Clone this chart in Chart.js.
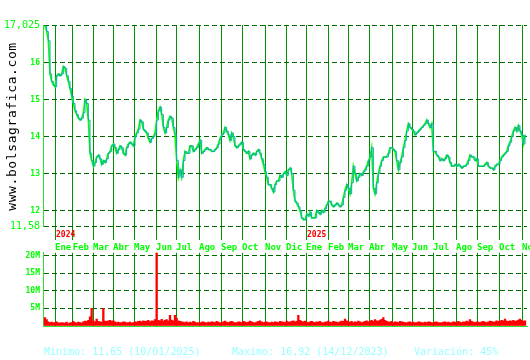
<!DOCTYPE html>
<html>
<head>
<meta charset="utf-8">
<script src="https://cdn.jsdelivr.net/npm/chart.js@4.4.0/dist/chart.umd.min.js"></script>
<style>
  body { margin: 0; background: #fff; }
  #wrap { position: relative; width: 530px; height: 360px; }
  #priceBox { position: absolute; left: 0; top: 0; width: 530px; height: 252px; }
  #volBox { position: absolute; left: 0; top: 245px; width: 530px; height: 90px; }
  .foot { position: absolute; top: 346px; font: 10px "DejaVu Sans Mono", monospace; color: #99ffff; white-space: pre; }
</style>
</head>
<body>
<div id="wrap">
  <div id="priceBox"><canvas id="priceChart"></canvas></div>
  <div id="volBox"><canvas id="volChart"></canvas></div>
  <span class="foot" style="left:44px">Minimo: 11,65 (10/01/2025)</span>
  <span class="foot" style="left:232px">Maximo: 16,92 (14/12/2023)</span>
  <span class="foot" style="left:414px">Variación: 45%</span>
</div>
<script>
// daily closes, Dec 2023 -> Nov 2025 (one value every ~1.7 sessions)
const closes = [
  17.0, 16.85, 16.6, 15.7, 15.5, 15.4, 15.35, 15.65, 15.7, 15.65, 15.7, 15.9, 15.85, 15.65, 15.5, 15.3, 15.1, 14.9, 14.7, 14.6,
  14.5, 14.45, 14.5, 14.65, 15.0, 14.9, 14.45, 13.55, 13.35, 13.2, 13.3, 13.45, 13.5, 13.4, 13.25, 13.35, 13.3, 13.4, 13.55, 13.6,
  13.75, 13.8, 13.7, 13.55, 13.65, 13.75, 13.7, 13.55, 13.5, 13.7, 13.8, 13.85, 13.8, 13.75, 14.0, 14.1, 14.2, 14.45, 14.4, 14.2,
  14.15, 14.1, 13.95, 13.85, 13.95, 14.0, 14.1, 14.45, 14.7,
  14.8, 14.6, 14.25, 14.1, 14.25, 14.45, 14.55, 14.5, 14.25, 14.05, 13.35, 12.9, 13.1, 12.9, 13.35, 13.6, 13.55, 13.55, 13.75, 13.75,
  13.6, 13.65, 13.7, 13.8, 13.9, 13.55, 13.6, 13.65, 13.7, 13.65, 13.65, 13.6, 13.6, 13.65, 13.7, 13.8, 13.95, 14.05, 14.1, 14.25,
  14.15, 14.05, 13.9, 14.1, 14.0, 13.75, 13.7, 13.75, 13.8, 13.85, 13.65, 13.6, 13.55, 13.6, 13.4, 13.5, 13.55, 13.5, 13.6, 13.65,
  13.55, 13.4, 13.25, 13.05, 12.9, 12.7, 12.7, 12.6, 12.5, 12.7, 12.8, 12.8,
  12.95, 12.9, 13.0, 13.05, 12.95, 13.1, 13.15, 13.0, 12.55, 12.25, 12.2, 12.1, 12.0, 11.8, 11.75, 11.75, 11.9, 11.85, 11.95, 11.8,
  11.8, 11.8, 12.0, 11.95, 11.9, 12.0, 11.95, 12.05, 12.15, 12.25, 12.25, 12.15, 12.1, 12.15, 12.2, 12.15, 12.1, 12.15, 12.35, 12.55,
  12.7, 12.6, 12.45, 12.75, 13.2, 13.0, 12.8, 12.9, 13.0, 12.95, 13.05, 13.1, 13.2, 13.35, 13.45, 13.7, 12.6, 12.45, 12.75, 13.0,
  13.2, 13.35, 13.45, 13.45, 13.45, 13.55, 13.7, 13.7, 13.65, 13.6, 13.35, 13.1,
  13.3, 13.45, 13.7, 13.9, 14.15, 14.35, 14.25, 14.2, 14.15, 14.05, 14.1, 14.15, 14.2, 14.25, 14.3, 14.35, 14.45, 14.35, 14.25, 14.35,
  13.6, 13.6, 13.5, 13.45, 13.35, 13.4, 13.35, 13.4, 13.5, 13.45, 13.3, 13.2, 13.2, 13.25, 13.2, 13.25, 13.2, 13.15, 13.2, 13.2,
  13.25, 13.35, 13.5, 13.45, 13.45, 13.35, 13.4, 13.2, 13.2, 13.2, 13.2, 13.25, 13.3, 13.2, 13.15, 13.15, 13.1, 13.2, 13.25, 13.25,
  13.35, 13.45, 13.5, 13.55, 13.6, 13.75, 13.85, 14.0, 14.15, 14.25, 14.15, 14.3, 14.15, 14.05, 13.8, 14.05
];

// volume in millions, same sampling
const volumes = [
  2.4, 1.8, 1.2, 1.0, 1.1, 0.9, 1.0, 1.2, 0.9, 0.8, 1.0, 0.9, 0.8, 1.1, 0.7, 0.9, 1.0, 1.3, 1.0, 0.9,
  1.1, 1.0, 0.9, 1.2, 1.4, 1.3, 1.6, 2.6, 5.0, 1.5, 1.2, 2.0, 1.3, 1.2, 1.1, 5.0, 1.4, 1.3, 1.5, 1.6,
  1.4, 1.5, 1.2, 1.0, 1.1, 0.9, 1.0, 1.2, 1.1, 0.9, 1.0, 1.1, 0.8, 1.0, 1.2, 1.1, 1.3, 1.4, 1.2, 1.5,
  1.3, 1.4, 1.6, 1.2, 1.5, 1.4, 1.8, 21.0, 1.6, 1.5, 1.9, 1.4, 1.6, 1.8, 1.5, 3.0, 1.7, 1.5, 3.0, 2.2,
  1.5, 1.3, 1.2, 1.1, 1.0, 1.2, 0.9, 1.1, 1.0, 1.3, 1.1, 0.9, 1.0, 0.8, 1.1, 1.2, 1.0, 0.9, 1.1, 1.0,
  1.2, 1.1, 1.0, 1.3, 1.1, 0.9, 1.0, 1.2, 1.4, 1.1, 1.0, 1.2, 1.3, 1.1, 0.9, 1.0, 1.2, 1.1, 1.0, 1.3,
  1.2, 1.0, 1.1, 1.4, 1.2, 1.0, 0.9, 1.1, 1.3, 1.5, 1.2, 1.0, 1.1, 1.2, 1.0, 0.9, 1.1, 1.0, 1.2, 1.1,
  1.0, 1.3, 1.2, 1.1, 1.0, 1.4, 1.2, 1.1, 1.3, 1.5, 1.2, 1.4, 3.0, 1.6, 1.3, 1.2, 1.4, 1.1, 1.0, 1.2,
  1.3, 1.1, 1.0, 1.2, 1.1, 1.3, 1.0, 0.9, 1.1, 1.2, 1.4, 1.1, 1.0, 1.3, 1.2, 1.1, 1.0, 1.2, 1.4, 1.3,
  2.0, 1.5, 1.2, 1.1, 1.3, 1.0, 1.2, 1.1, 1.4, 1.2, 1.0, 1.1, 1.3, 1.5, 1.2, 1.4, 1.6, 1.3, 1.8, 1.5,
  1.4, 1.7, 1.9, 2.4, 1.6, 1.3, 1.2, 1.1, 1.3, 1.0, 1.2, 1.1, 1.0, 1.3, 1.2, 1.1, 1.0, 0.9, 1.1, 1.2,
  1.0, 1.1, 0.9, 1.0, 1.2, 1.1, 1.0, 0.9, 1.1, 1.0, 1.2, 1.1, 1.0, 0.9, 1.1, 1.2, 1.0, 0.9, 1.0, 1.1,
  1.2, 1.0, 1.1, 0.9, 1.0, 1.2, 1.1, 1.0, 1.3, 1.1, 1.0, 1.2, 1.1, 1.4, 1.2, 1.8, 1.3, 1.1, 1.0, 1.2,
  1.1, 1.0, 1.2, 1.3, 1.1, 1.0, 1.2, 1.4, 1.3, 1.1, 1.2, 1.5, 1.3, 1.4, 1.6, 1.5, 2.0, 1.4, 1.3, 1.5,
  1.4, 1.6, 1.3, 1.5, 1.7, 2.0, 1.6, 1.4, 1.5
];

// month starts, in sample units
const monthPos = [6.0, 16.6, 28.8, 40.8, 53.4, 66.6, 78.6, 92.4, 105.6, 118.2, 132.0, 144.6,
                  156.6, 169.8, 181.8, 194.4, 208.2, 220.2, 232.8, 246.6, 259.2, 272.4, 286.2];
const monthLabels = ['Ene', 'Feb', 'Mar', 'Abr', 'May', 'Jun', 'Jul', 'Ago', 'Sep', 'Oct', 'Nov', 'Dic',
                     'Ene', 'Feb', 'Mar', 'Abr', 'May', 'Jun', 'Jul', 'Ago', 'Sep', 'Oct', 'Nov'];
const yearLabels = ['2024', '2025'];
const yearAt = [0, 12];

const priceTicks = [11.58, 12, 13, 14, 15, 16, 17.025];
const volTicks = [0, 5, 10, 15, 20];

const xMin = -1.2, xMax = 289.2;
const green = '#00ff00';
const gridDark = '#006600';
const monthLine = '#009000';
const axisLine = '#33dd33';

const siteTitle = {
    id: 'siteTitle',
    afterDraw(chart) {
        const ctx = chart.ctx;
        const a = chart.chartArea;
        ctx.save();
        ctx.translate(13, (a.top + a.bottom) / 2 + 1);
        ctx.rotate(-Math.PI / 2);
        ctx.letterSpacing = '0.6px';
        ctx.font = '13px "DejaVu Sans Mono"';
        ctx.fillStyle = '#000';
        ctx.textAlign = 'center';
        ctx.textBaseline = 'middle';
        ctx.fillText('www.bolsagrafica.com', 0, 0);
        ctx.restore();
    }
};

const yearMarks = {
    id: 'yearMarks',
    afterDraw(chart) {
        const ctx = chart.ctx;
        const xs = chart.scales.x;
        ctx.save();
        ctx.font = 'bold 8px "DejaVu Sans Mono"';
        ctx.fillStyle = '#ff0000';
        ctx.textAlign = 'left';
        ctx.textBaseline = 'top';
        yearLabels.forEach((y, i) => {
            ctx.fillText(y, xs.getPixelForValue(monthPos[yearAt[i]]) + 1, 231);
        });
        ctx.restore();
    }
};

function monthAxis(showLabels) {
    return {
        type: 'linear',
        offset: false,
        min: xMin,
        max: xMax,
        afterBuildTicks: (s) => { s.ticks = monthPos.map(v => ({ value: v })); },
        afterFit: (s) => { s.height = showLabels ? 26 : 9; s.paddingLeft = 0; s.paddingRight = 0; },
        grid: { offset: false, color: monthLine, lineWidth: 1, drawTicks: showLabels, tickLength: 14 },
        border: { display: !showLabels, color: axisLine, width: 1 },
        ticks: {
            display: showLabels,
            autoSkip: false,
            maxRotation: 0,
            align: 'start',
            padding: 2,
            color: green,
            font: { family: 'DejaVu Sans Mono', size: 9, weight: 'bold' },
            callback: (v, i) => monthLabels[i]
        }
    };
}

new Chart(document.getElementById('priceChart'), {
    type: 'line',
    data: {
        datasets: [
            {
                data: closes.map((v, i) => ({ x: i, y: v })),
                borderColor: '#10a8b8',
                borderWidth: 1,
                stepped: 'before',
                pointRadius: 0
            },
            {
                data: closes.map((v, i) => ({ x: i, y: v })),
                borderColor: green,
                borderWidth: 1.6,
                pointRadius: 0
            }
        ]
    },
    options: {
        responsive: true,
        maintainAspectRatio: false,
        animation: false,
        layout: { padding: { top: 25, right: 3, left: 0, bottom: 0 } },
        plugins: { legend: { display: false }, tooltip: { enabled: false } },
        scales: {
            x: monthAxis(true),
            y: {
                min: 11.58,
                max: 17.025,
                afterBuildTicks: (s) => { s.ticks = priceTicks.map(v => ({ value: v })); },
                afterFit: (s) => { s.width = 43; },
                grid: { color: gridDark, lineWidth: 1, drawTicks: false },
                border: { color: axisLine, width: 1, dash: [5, 3] },
                ticks: {
                    padding: 3,
                    color: green,
                    font: (c) => (c.index === 0 || c.index === priceTicks.length - 1)
                        ? { family: 'DejaVu Sans Mono', size: 10 }
                        : { family: 'DejaVu Sans Mono', size: 8, weight: 'bold' },
                    callback: (v) => String(v).replace('.', ',')
                }
            }
        }
    },
    plugins: [siteTitle, yearMarks]
});

new Chart(document.getElementById('volChart'), {
    type: 'bar',
    data: {
        datasets: [{
            data: volumes.map((v, i) => ({ x: i, y: v })),
            backgroundColor: '#ff0000',
            barPercentage: 1,
            categoryPercentage: 1
        }]
    },
    options: {
        responsive: true,
        maintainAspectRatio: false,
        animation: false,
        layout: { padding: { top: 7, right: 3, left: 0, bottom: 0 } },
        plugins: { legend: { display: false }, tooltip: { enabled: false } },
        scales: {
            x: monthAxis(false),
            y: {
                min: 0,
                max: 20.8,
                afterBuildTicks: (s) => { s.ticks = volTicks.map(v => ({ value: v })); },
                afterFit: (s) => { s.width = 43; },
                grid: { color: (c) => c.tick.value === 0 ? 'rgba(0,0,0,0)' : gridDark, lineWidth: 1, drawTicks: false },
                border: { color: axisLine, width: 1, dash: [5, 3] },
                ticks: {
                    padding: 3,
                    color: green,
                    font: { family: 'DejaVu Sans Mono', size: 8, weight: 'bold' },
                    callback: (v) => v === 0 ? '' : v + 'M'
                }
            }
        }
    }
});
</script>
</body>
</html>
